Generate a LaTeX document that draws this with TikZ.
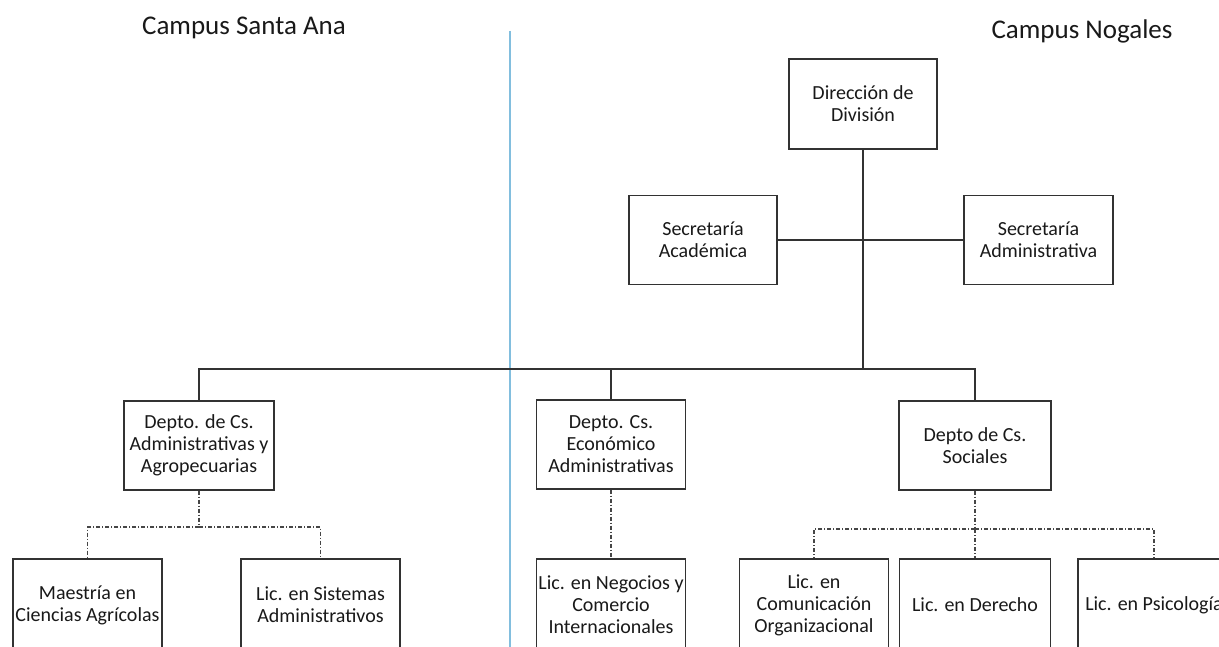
\documentclass[tikz,border=0pt]{standalone}
\usepackage{fontspec}
\setmainfont{Carlito}
\definecolor{linec}{RGB}{50,50,50}
\definecolor{dashc}{RGB}{70,70,70}
\definecolor{textc}{RGB}{25,25,25}
\definecolor{sepc}{RGB}{130,190,222}
\begin{document}
\begin{tikzpicture}[x=1pt,y=-1pt,
  box/.style={draw=linec, line width=1.4pt, inner sep=0pt, align=center, text=textc,
              font=\fontsize{20}{22}\selectfont, fill=white},
  conn/.style={draw=linec, line width=1.5pt},
  sub/.style={draw=dashc, line width=1.1pt, dash pattern=on 4pt off 2pt on 1pt off 2pt},
  title/.style={text=textc, font=\fontsize{27}{30}\selectfont, inner sep=0pt, anchor=base},
  sepline/.style={draw=sepc, line width=1.3pt}]
\useasboundingbox (0,0) rectangle (1219,647);
\fill[white] (0,0) rectangle (1219,647);
\clip (0,0) rectangle (1219,647);

% titles
\node[title] (tSA) at (244,35) {Campus Santa Ana};
\node[title] (tNO) at (1082,39) {Campus Nogales};

% separator
\coordinate (sepTop) at (510,31);
\coordinate (sepBot) at (510,650);
\draw[sepline] (sepTop) -- (sepBot);

% top level
\node[box, minimum width=148pt, minimum height=90pt] (dir) at (863,104) {Dirección de\\División};
\node[box, minimum width=148pt, minimum height=89pt] (secAc) at (703,240) {Secretaría\\Académica};
\node[box, minimum width=149pt, minimum height=89pt] (secAd) at (1038.5,240) {Secretaría\\Administrativa};

% departments
\node[box, minimum width=150pt, minimum height=89pt] (dAdm) at (199,445.5) {Depto. de Cs.\\Administrativas y\\Agropecuarias};
\node[box, minimum width=149pt, minimum height=89pt] (dEco) at (611,444.5) {Depto. Cs.\\Económico\\Administrativas};
\node[box, minimum width=152pt, minimum height=89pt] (dSoc) at (975,445.5) {Depto de Cs.\\Sociales};

% programs
\node[box, minimum width=149pt, minimum height=92pt] (maes) at (87.5,605) {Maestría en\\Ciencias Agrícolas};
\node[box, minimum width=159pt, minimum height=92pt] (sist) at (320.5,605) {Lic. en Sistemas\\Administrativos};
\node[box, minimum width=149pt, minimum height=92pt] (neg) at (611,605) {Lic. en Negocios y\\Comercio\\Internacionales};
\node[box, minimum width=149pt, minimum height=92pt] (com) at (814,605) {Lic. en\\Comunicación\\Organizacional};
\node[box, minimum width=151pt, minimum height=92pt] (der) at (975,605) {Lic. en Derecho};
\node[box, minimum width=152pt, minimum height=92pt] (psi) at (1154,605) {Lic. en Psicología};

% solid connectors
\coordinate (sechub) at (863,240);
\coordinate (hub) at (863,369);
\draw[conn] (dir.south) -- (hub);
\draw[conn] (secAc.east) -- (sechub) -- (secAd.west);
\draw[conn] (hub) -| (dAdm.north);
\draw[conn] (hub) -| (dEco.north);
\draw[conn] (hub) -| (dSoc.north);
\draw[conn, line width=2.4pt] (hub) -- (hub -| dEco.north);

% dash-dot connectors
\coordinate (jA) at (199,527);
\coordinate (jS) at (975,529);
\draw[sub] (dAdm.south) -- (jA);
\draw[sub] (jA) -| (maes.north);
\draw[sub] (jA) -| (sist.north);
\draw[sub] (dEco.south) -- (neg.north);
\draw[sub] (dSoc.south) -- (jS);
\draw[sub] (jS) -| (com.north);
\draw[sub] (jS) -| (psi.north);
\draw[sub] (jS) -- (der.north);
\end{tikzpicture}
\end{document}
